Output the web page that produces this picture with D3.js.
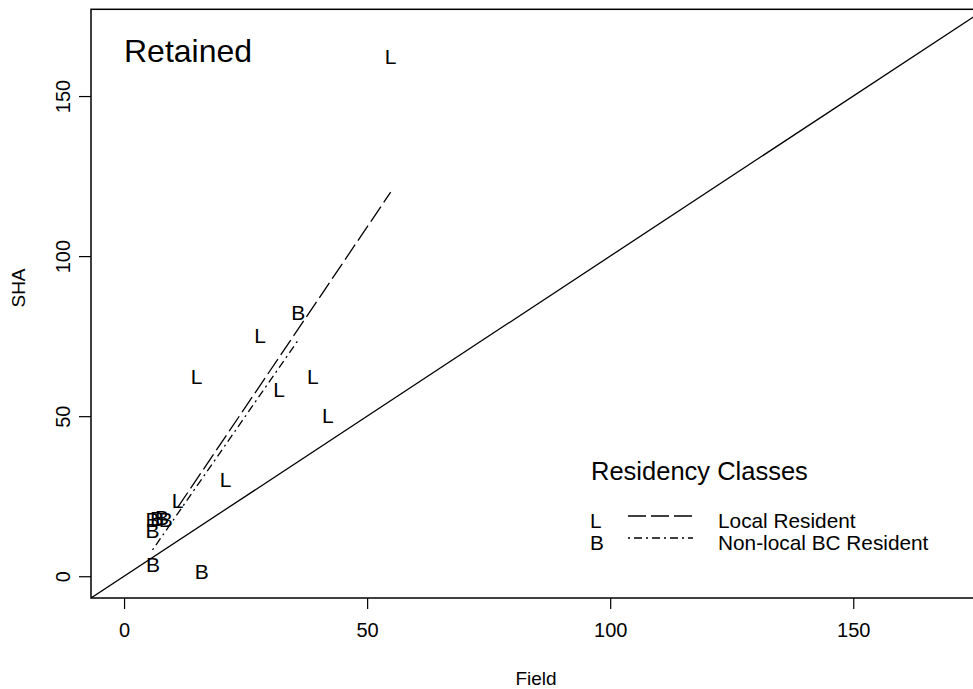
<!DOCTYPE html>
<html>
<head>
<meta charset="utf-8">
<script src="https://cdn.jsdelivr.net/npm/d3@7"></script>
<style>
  html, body { margin: 0; padding: 0; background: #fff; }
  svg { display: block; }
  text { font-family: "Liberation Sans", Arial, Helvetica, sans-serif; fill: #000; }
</style>
</head>
<body>
<svg id="chart" width="973" height="689"></svg>
<script>
// Local residents: field count vs SHA estimate
const localField = [54.85, 27.97, 14.94, 38.81, 31.87, 41.9, 20.9, 11.03];
const localSHA   = [162.5, 75.35, 62.3, 62.3, 58.4, 50.3, 30.3, 23.6];

// Non-local BC residents
const bcField = [35.84, 5.85, 6.77, 7.8, 8.6, 5.85, 5.95, 16.0];
const bcSHA   = [82.3, 17.7, 18.0, 18.3, 17.7, 14.4, 3.65, 1.5];

// Fitted lines for each class (end points)
const localFitField = [11.03, 54.85];
const localFitSHA   = [21.5, 120];
const bcFitField    = [5.85, 35.84];
const bcFitSHA      = [8.2, 73.8];

const xTicks = [0, 50, 100, 150];
const yTicks = [0, 50, 100, 150];
const legendLabels = ["Local Resident", "Non-local BC Resident"];
const legendSymbols = ["L", "B"];
const legendDashes = ["18,5", "2,4,8,4"];

const svg = d3.select("#chart");

const plot = { left: 91, right: 985, top: 9.3, bottom: 598 };
const lim = [-6.8, 177.1];

const x = d3.scaleLinear().domain(lim).range([plot.left, plot.right]);
const y = d3.scaleLinear().domain(lim).range([plot.bottom, plot.top]);

svg.append("defs").append("clipPath").attr("id", "plotclip")
  .append("rect")
  .attr("x", plot.left).attr("y", plot.top)
  .attr("width", plot.right - plot.left).attr("height", plot.bottom - plot.top);

// Axes
const xAxis = d3.axisBottom(x).tickValues(xTicks).tickSize(11).tickPadding(14).tickFormat(d3.format("d"));
const gx = svg.append("g").attr("transform", `translate(0,${plot.bottom})`).call(xAxis);
gx.select(".domain").remove();
gx.selectAll(".tick line").attr("stroke", "#000").attr("stroke-width", 1.2);
gx.selectAll(".tick text").attr("font-size", 20).attr("dy", "0.71em")
  .style("font-family", "'Liberation Sans', Arial, sans-serif");

const yAxis = d3.axisLeft(y).tickValues(yTicks).tickSize(12).tickFormat(d3.format("d"));
const gy = svg.append("g").attr("transform", `translate(${plot.left},0)`).call(yAxis);
gy.select(".domain").remove();
gy.selectAll(".tick line").attr("stroke", "#000").attr("stroke-width", 1.2);
gy.selectAll(".tick text").remove();
gy.selectAll(".tick").append("text")
  .attr("transform", "translate(-21,0) rotate(-90)")
  .attr("text-anchor", "middle")
  .attr("font-size", 20)
  .style("font-family", "'Liberation Sans', Arial, sans-serif")
  .text(d => d);

// Axis titles
svg.append("text").attr("x", 536).attr("y", 685).attr("text-anchor", "middle")
  .attr("font-size", 19).text("Field");
svg.append("text").attr("transform", "translate(25,288) rotate(-90)")
  .attr("text-anchor", "middle").attr("font-size", 19).text("SHA");

const inner = svg.append("g").attr("clip-path", "url(#plotclip)");

// Reference line SHA = Field
inner.append("line")
  .attr("x1", x(lim[0])).attr("y1", y(lim[0]))
  .attr("x2", x(lim[1])).attr("y2", y(lim[1]))
  .attr("stroke", "#000").attr("stroke-width", 1.3);

// Fitted lines
const lineGen = d3.line().x(d => x(d[0])).y(d => y(d[1]));
inner.append("path")
  .attr("d", lineGen(d3.zip(localFitField, localFitSHA)))
  .attr("fill", "none").attr("stroke", "#000").attr("stroke-width", 1.3)
  .attr("stroke-dasharray", legendDashes[0]);
inner.append("path")
  .attr("d", lineGen(d3.zip(bcFitField, bcFitSHA)))
  .attr("fill", "none").attr("stroke", "#000").attr("stroke-width", 1.3)
  .attr("stroke-dasharray", legendDashes[1]);

// Point symbols as letters
const ptSize = 21;
const pts = d3.zip(localField, localSHA).map(d => ({ f: d[0], s: d[1], c: "L" }))
  .concat(d3.zip(bcField, bcSHA).map(d => ({ f: d[0], s: d[1], c: "B" })));
inner.selectAll("text.pt").data(pts).join("text")
  .attr("class", "pt")
  .attr("x", d => x(d.f))
  .attr("y", d => y(d.s) + 0.358 * ptSize)
  .attr("text-anchor", "middle")
  .attr("font-size", ptSize)
  .text(d => d.c);

// Plot frame
svg.append("rect")
  .attr("x", plot.left).attr("y", plot.top)
  .attr("width", plot.right - plot.left).attr("height", plot.bottom - plot.top)
  .attr("fill", "none").attr("stroke", "#000").attr("stroke-width", 1.5);

// Panel title
svg.append("text").attr("x", 124).attr("y", 62).attr("font-size", 32).text("Retained");

// Legend
svg.append("text").attr("x", 591).attr("y", 480).attr("font-size", 25.5).text("Residency Classes");
const leg = svg.append("g");
legendLabels.forEach((lab, i) => {
  const cy = 516 + i * 22;
  leg.append("text").attr("x", 590).attr("y", cy + 12).attr("font-size", 20.8).text(legendSymbols[i]);
  leg.append("line").attr("x1", 628).attr("x2", 693).attr("y1", cy).attr("y2", cy)
    .attr("stroke", "#000").attr("stroke-width", 1.3).attr("stroke-dasharray", legendDashes[i]);
  leg.append("text").attr("x", 718).attr("y", cy + 12).attr("font-size", 20.8).text(lab);
});
</script>
</body>
</html>
